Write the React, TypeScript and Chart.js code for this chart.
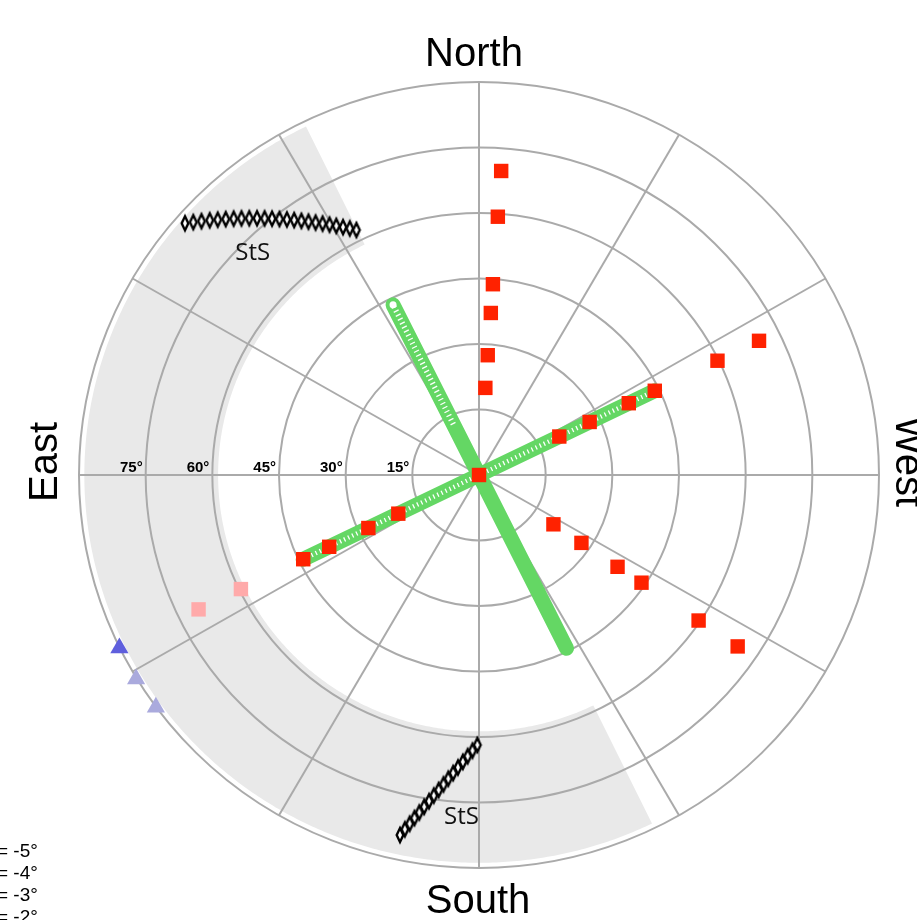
import React, { useEffect, useRef } from 'react';
import { Chart, registerables } from 'chart.js';

Chart.register(...registerables);

// ---------------- data (azimuth: 0 = North, 90 = East; zenith distance in degrees) ----------------
const ringZeniths = [15, 30, 45, 60, 75, 90];
const ringLabels = ['15°', '30°', '45°', '60°', '75°'];
const spokeAzimuths = [0, 30, 60, 90, 120, 150, 180, 210, 240, 270, 300, 330];
const cardinalLabels = ['North', 'East', 'South', 'West'];

const shadeAzimuths = [26, 206];
const shadeZeniths = [58.7, 88.8];

const greenAzimuths = [26.4, 206.4, 116.0, 296.0];
const greenEndZeniths = [43.5, 44.3, 44.0, 44.0];
const hollowAzimuths = [26.4, 116.0, 296.0];
const hollowStartZeniths = [13, 2, 2];
const hollowEndZeniths = [43.5, 44.0, 44.0];

const redGroupAzimuths = [355.9, 296.0, 236.0, 116.0];
const redNNWZeniths = [20.0, 27.5, 37.2, 43.8, 59.3, 69.8];
const redWNWZeniths = [20.1, 27.7, 37.5, 44.0, 59.7, 70.1];
const redSWZeniths = [20.2, 27.8, 37.6, 44.1, 59.6, 70.2];
const redESEZeniths = [20.2, 27.7, 37.5, 44.0];
const paleESEZeniths = [59.6, 70.2];
const zenithPointZen = 0;

const triangleAzimuths = [116.1, 121.2, 126.2];
const triangleZeniths = [90.1, 90.2, 90.1];
const triangleColors = ['#5f5fdd', '#aaaadd', '#aaaadd'];
const legendLabels = ['= -5°', '= -4°', '= -3°', '= -2°'];

const stsNorthAz = [48.93, 47.99, 47.05, 46.09, 45.15, 44.2, 43.24, 42.29, 41.32, 40.35, 39.39, 38.42,
  37.45, 36.45, 35.47, 34.47, 33.48, 32.46, 31.43, 30.4, 29.37, 28.32, 27.25, 26.18];
const stsNorthZen = [87.75, 86.52, 85.31, 84.1, 82.92, 81.74, 80.58, 79.43, 78.28, 77.14, 76.03, 74.93,
  73.83, 72.75, 71.67, 70.6, 69.56, 68.51, 67.48, 66.47, 65.47, 64.48, 63.5, 62.53];
const stsSouthAz = [179.65, 178.67, 177.73, 176.83, 175.96, 175.13, 174.33, 173.56, 172.83, 172.11,
  171.44, 170.78, 170.14, 169.53, 168.95, 168.38, 167.83];
const stsSouthZen = [61.83, 63.14, 64.45, 65.79, 67.15, 68.52, 69.9, 71.3, 72.7, 74.12, 75.55, 76.99,
  78.45, 79.9, 81.37, 82.85, 84.34];
const stsLabel = 'StS';
const stsLabelAz = [44.9, 177.1];
const stsLabelZen = [72.1, 78.1];

// ---------------- helpers ----------------
const GREEN = '#64d764';
const RED = '#ff2200';
const PALE = '#ffaaaa';
const GRID = '#aaaaaa';
const SHADE = '#e9e9e9';
const SANS = '"Liberation Sans", Arial, Helvetica, sans-serif';

function toXY(az: number, zen: number) {
  const r = (az * Math.PI) / 180;
  return { x: -zen * Math.sin(r), y: zen * Math.cos(r) };
}

function makeDiamond() {
  const c = document.createElement('canvas');
  c.width = 14;
  c.height = 26;
  const g = c.getContext('2d')!;
  const cx = 7, cy = 13, a = 3.3, b = 7.0;
  g.beginPath();
  g.moveTo(cx, cy - b);
  g.lineTo(cx + a, cy);
  g.lineTo(cx, cy + b);
  g.lineTo(cx - a, cy);
  g.closePath();
  g.fillStyle = '#ffffff';
  g.fill();
  g.lineWidth = 2.4;
  g.lineJoin = 'miter';
  g.strokeStyle = '#000000';
  g.stroke();
  return c;
}

const backgroundPlugin = {
  id: 'skyGrid',
  beforeDatasetsDraw(chart: any) {
    const ctx = chart.ctx;
    const xs = chart.scales.x;
    const ys = chart.scales.y;
    const px = (az: number, zen: number) => {
      const p = toXY(az, zen);
      return [xs.getPixelForValue(p.x), ys.getPixelForValue(p.y)];
    };
    const cx = xs.getPixelForValue(0);
    const cy = ys.getPixelForValue(0);
    const kx = xs.getPixelForValue(1) - cx;
    const ky = cy - ys.getPixelForValue(1);
    ctx.save();
    // shaded band
    ctx.beginPath();
    const [a0, a1] = shadeAzimuths;
    const [zIn, zOut] = shadeZeniths;
    for (let a = a0; a <= a1 + 1e-6; a += 0.5) {
      const [x, y] = px(a, zOut);
      if (a === a0) ctx.moveTo(x, y);
      else ctx.lineTo(x, y);
    }
    for (let a = a1; a >= a0 - 1e-6; a -= 0.5) {
      const [x, y] = px(a, zIn);
      ctx.lineTo(x, y);
    }
    ctx.closePath();
    ctx.fillStyle = SHADE;
    ctx.fill();
    // rings
    ctx.strokeStyle = GRID;
    ctx.lineWidth = 2;
    ringZeniths.forEach((z) => {
      ctx.beginPath();
      ctx.ellipse(cx, cy, z * kx, z * ky, 0, 0, Math.PI * 2);
      ctx.stroke();
    });
    // spokes
    const zMax = ringZeniths[ringZeniths.length - 1];
    spokeAzimuths.forEach((a) => {
      const [x, y] = px(a, zMax);
      ctx.beginPath();
      ctx.moveTo(cx, cy);
      ctx.lineTo(x, y);
      ctx.stroke();
    });
    ctx.restore();
  },
};

const textPlugin = {
  id: 'skyText',
  afterDraw(chart: any) {
    const ctx = chart.ctx;
    const xs = chart.scales.x;
    const ys = chart.scales.y;
    const cx = xs.getPixelForValue(0);
    const cy = ys.getPixelForValue(0);
    ctx.save();
    ctx.fillStyle = '#000000';
    ctx.textBaseline = 'alphabetic';
    // ring labels
    ctx.font = `bold 15px ${SANS}`;
    ctx.textAlign = 'right';
    ringLabels.forEach((t, i) => {
      ctx.fillText(t, xs.getPixelForValue(-ringZeniths[i]) - 3, cy - 3);
    });
    // cardinal labels
    ctx.font = `40px ${SANS}`;
    ctx.textAlign = 'center';
    ctx.fillText(cardinalLabels[0], cx - 5, 66);
    ctx.fillText(cardinalLabels[2], cx - 1, 913);
    ctx.save();
    ctx.translate(57, cy - 13);
    ctx.rotate(-Math.PI / 2);
    ctx.fillText(cardinalLabels[1], 0, 0);
    ctx.restore();
    ctx.save();
    ctx.translate(896, cy - 13);
    ctx.rotate(Math.PI / 2);
    ctx.fillText(cardinalLabels[3], 0, 0);
    ctx.restore();
    // StS labels
    ctx.font = `24px "Open Sans", "Noto Sans", sans-serif`;
    ctx.fillStyle = '#111111';
    stsLabelAz.forEach((a, i) => {
      const p = toXY(a, stsLabelZen[i]);
      ctx.fillText(stsLabel, xs.getPixelForValue(p.x), ys.getPixelForValue(p.y) + 8.5);
    });
    // legend text (partially cut)
    ctx.fillStyle = '#000000';
    ctx.font = `19px ${SANS}`;
    ctx.textAlign = 'left';
    legendLabels.forEach((t, i) => ctx.fillText(t, -3, 857 + 22 * i));
    ctx.restore();
  },
};

export default function App() {
  const ref = useRef<HTMLCanvasElement>(null);

  useEffect(() => {
    if (!ref.current) return;
    const diamond = makeDiamond();

    const greenSets = greenAzimuths.map((a, i) => ({
      data: [toXY(a, 0), toXY(a, greenEndZeniths[i])],
      showLine: true,
      borderColor: GREEN,
      borderWidth: 15,
      borderCapStyle: 'round',
      pointRadius: 0,
      order: 6,
    }));
    const hollowSets = hollowAzimuths.map((a, i) => ({
      data: [toXY(a, hollowStartZeniths[i]), toXY(a, hollowEndZeniths[i])],
      showLine: true,
      borderColor: '#ffffff',
      borderWidth: i === 0 ? 5.5 : 4.5,
      borderDash: [1.3, 3.2],
      borderCapStyle: 'butt',
      pointRadius: 0,
      order: 5,
    }));
    const endRing = {
      data: [toXY(hollowAzimuths[0], hollowEndZeniths[0])],
      pointRadius: 3.5,
      pointBackgroundColor: '#ffffff',
      pointBorderWidth: 0,
      order: 4,
    };

    const northPts = stsNorthAz.map((a, i) => toXY(a, stsNorthZen[i]));
    const southPts = stsSouthAz.map((a, i) => toXY(a, stsSouthZen[i]));
    const stsSets = [northPts, southPts].map((pts) => ({
      data: pts,
      pointStyle: diamond,
      pointRadius: 7,
      order: 3,
    }));

    const redPts = [
      toXY(0, zenithPointZen),
      ...redNNWZeniths.map((z) => toXY(redGroupAzimuths[0], z)),
      ...redWNWZeniths.map((z) => toXY(redGroupAzimuths[1], z)),
      ...redSWZeniths.map((z) => toXY(redGroupAzimuths[2], z)),
      ...redESEZeniths.map((z) => toXY(redGroupAzimuths[3], z)),
    ];
    const redSet = {
      data: redPts,
      pointStyle: 'rect',
      pointRadius: 10.2,
      pointBackgroundColor: RED,
      pointBorderWidth: 0,
      order: 1,
    };
    const paleSet = {
      data: paleESEZeniths.map((z) => toXY(redGroupAzimuths[3], z)),
      pointStyle: 'rect',
      pointRadius: 10.2,
      pointBackgroundColor: PALE,
      pointBorderWidth: 0,
      order: 2,
    };
    const triSet = {
      data: triangleAzimuths.map((a, i) => toXY(a, triangleZeniths[i])),
      pointStyle: 'triangle',
      pointRadius: 10.5,
      pointBackgroundColor: triangleColors,
      pointBorderWidth: 0,
      order: 0,
    };

    const chart = new Chart(ref.current, {
      type: 'scatter',
      data: {
        datasets: [triSet, redSet, paleSet, ...stsSets, endRing, ...hollowSets, ...greenSets] as any,
      },
      options: {
        responsive: false,
        animation: false,
        events: [],
        layout: { padding: { left: 79, right: 38, top: 82, bottom: 52 } },
        scales: {
          x: { type: 'linear', min: -90, max: 90, display: false },
          y: { type: 'linear', min: -90, max: 90, display: false },
        },
        plugins: { legend: { display: false }, tooltip: { enabled: false } },
      } as any,
      plugins: [backgroundPlugin, textPlugin],
    });
    return () => chart.destroy();
  }, []);

  return (
    <div style={{ position: 'absolute', left: 0, top: 0, width: 917, height: 920, background: '#ffffff' }}>
      <canvas ref={ref} width={917} height={920} style={{ display: 'block', width: 917, height: 920 }} />
    </div>
  );
}
